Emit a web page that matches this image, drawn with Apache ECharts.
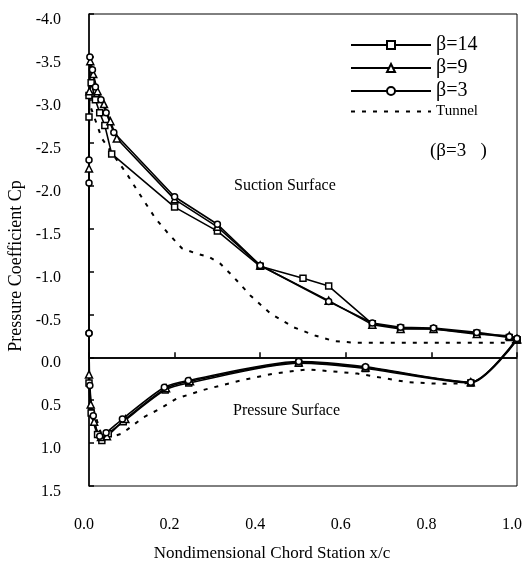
<!DOCTYPE html>
<html>
<head>
<meta charset="utf-8">
<script src="https://cdn.jsdelivr.net/npm/echarts@6/dist/echarts.min.js"></script>
<style>
  html, body { margin: 0; padding: 0; background: #fff; }
  #chart { width: 523px; height: 562px; }
</style>
</head>
<body>
<div id="chart"></div>
<script>
  // x/c and Cp
  var beta14Suction = [[0.0,-2.8],[0.0,-3.05],[0.005,-3.2],[0.015,-3.0],[0.025,-2.85],[0.037,-2.7],[0.053,-2.37],[0.2,-1.75],[0.3,-1.47],[0.4,-1.06],[0.5,-0.92],[0.56,-0.83],[0.662,-0.39],[0.728,-0.34],[0.805,-0.33],[0.906,-0.28],[0.982,-0.23],[1.0,-0.2]]
  var beta9Suction = [[0.0,-2.2],[0.001,-3.1],[0.003,-3.45],[0.01,-3.3],[0.02,-3.1],[0.035,-2.95],[0.05,-2.75],[0.065,-2.55],[0.2,-1.84],[0.3,-1.52],[0.4,-1.07],[0.56,-0.66],[0.662,-0.38],[0.728,-0.33],[0.805,-0.33],[0.906,-0.27],[0.982,-0.25],[1.0,-0.21]]
  var beta3Suction = [[0.0,-0.28],[0.0,-2.03],[0.0,-2.3],[0.002,-3.5],[0.008,-3.35],[0.015,-3.15],[0.028,-3.0],[0.04,-2.85],[0.058,-2.62],[0.2,-1.87],[0.3,-1.55],[0.4,-1.07],[0.56,-0.65],[0.662,-0.4],[0.728,-0.35],[0.805,-0.34],[0.906,-0.29],[0.982,-0.24],[1.0,-0.22]]

  var beta14Pressure = [[0.0,0.3],[0.005,0.65],[0.02,0.9],[0.03,0.97],[0.045,0.89],[0.08,0.75],[0.178,0.38],[0.233,0.3],[0.49,0.07],[0.646,0.13],[0.892,0.3],[1.0,-0.2]]
  var beta9Pressure = [[0.0,0.2],[0.004,0.55],[0.012,0.75],[0.028,0.93],[0.042,0.92],[0.085,0.72],[0.18,0.36],[0.236,0.28],[0.49,0.06],[0.646,0.12],[0.892,0.29],[1.0,-0.21]]
  var beta3Pressure = [[0.0,-0.28],[0.002,0.33],[0.01,0.68],[0.025,0.92],[0.04,0.88],[0.078,0.72],[0.176,0.35],[0.232,0.27],[0.49,0.05],[0.646,0.11],[0.892,0.29],[1.0,-0.22]]

  var tunnelSuction = [[0.005,-2.9],[0.03,-2.55],[0.065,-2.3],[0.088,-2.14],[0.112,-1.95],[0.138,-1.75],[0.155,-1.62],[0.182,-1.46],[0.217,-1.27],[0.25,-1.21],[0.28,-1.17],[0.307,-1.09],[0.337,-0.94],[0.377,-0.72],[0.424,-0.51],[0.478,-0.35],[0.53,-0.25],[0.572,-0.19],[0.62,-0.17],[0.8,-0.17],[1.0,-0.17]]
  var tunnelPressure = [[0.01,0.6],[0.03,0.92],[0.05,0.93],[0.077,0.89],[0.127,0.7],[0.166,0.6],[0.205,0.48],[0.268,0.38],[0.354,0.27],[0.432,0.19],[0.51,0.14],[0.627,0.19],[0.744,0.29],[0.822,0.31],[0.89,0.3]]

  var seriesNames = ['β=14', 'β=9', 'β=3', 'Tunnel']

  var font = 'Liberation Serif'
  var myChart = echarts.init(document.getElementById('chart'))

  function betaLine(name, data, symbol, size, smooth) {
    return {
      name: name,
      type: 'line',
      data: data,
      symbol: symbol,
      symbolSize: size,
      smooth: smooth,
      lineStyle: { color: '#000', width: 1.6 },
      itemStyle: { color: '#fff', borderColor: '#000', borderWidth: 1.5 },
      animation: false
    }
  }

  function tunnelLine(data) {
    return {
      name: 'Tunnel',
      type: 'line',
      data: data,
      symbol: 'none',
      lineStyle: { color: '#000', width: 2, type: [4, 7] },
      itemStyle: { color: '#000' },
      animation: false
    }
  }

  var zeroLine = tunnelLine(tunnelSuction)
  zeroLine.markLine = {
    silent: true,
    symbol: 'none',
    label: { show: false },
    lineStyle: { color: '#000', width: 1.5, type: 'solid' },
    data: [{ yAxis: 0 }],
    animation: false
  }

  var option = {
    backgroundColor: '#fff',
    grid: {
      left: 89,
      right: 6,
      top: 14,
      bottom: 76,
      show: true,
      borderColor: '#000',
      borderWidth: 1,
      outerBoundsMode: 'none'
    },
    legend: {
      orient: 'vertical',
      left: 345,
      top: 30,
      itemWidth: 80,
      itemHeight: 10,
      itemGap: 3,
      data: [
        { name: seriesNames[0] },
        { name: seriesNames[1] },
        { name: seriesNames[2] },
        { name: seriesNames[3], itemStyle: { opacity: 0 }, textStyle: { fontSize: 15 } }
      ],
      textStyle: { fontFamily: font, fontSize: 20, color: '#000' }
    },
    xAxis: {
      type: 'value',
      min: 0,
      max: 1,
      interval: 0.2,
      name: 'Nondimensional Chord Station x/c',
      nameLocation: 'middle',
      nameGap: 59,
      nameTextStyle: { fontFamily: font, fontSize: 17, color: '#000', padding: [0, 62, 0, 0] },
      axisLine: { lineStyle: { color: '#000', width: 1.5 } },
      axisTick: { inside: true, length: 5, lineStyle: { color: '#000', width: 1.5 } },
      axisLabel: {
        margin: 31,
        fontFamily: font,
        fontSize: 16,
        color: '#000',
        padding: [0, 10, 0, 0],
        formatter: function (v) { return v.toFixed(1) }
      },
      splitLine: { show: false }
    },
    yAxis: {
      type: 'value',
      inverse: true,
      min: -4,
      max: 1.5,
      interval: 0.5,
      name: 'Pressure Coefficient Cp',
      nameLocation: 'middle',
      nameGap: 61,
      nameRotate: 90,
      nameTextStyle: { fontFamily: font, fontSize: 18, color: '#000', padding: [0, 32, 0, 0] },
      axisLine: { lineStyle: { color: '#000', width: 1.5 } },
      axisTick: { inside: true, length: 5, lineStyle: { color: '#000', width: 1.5 } },
      axisLabel: {
        margin: 28,
        fontFamily: font,
        fontSize: 16,
        color: '#000',
        verticalAlign: 'top',
        padding: [-2, 0, 0, 0],
        formatter: function (v) {
          return v < 0 ? '-' + Math.abs(v).toFixed(1) : v.toFixed(1)
        }
      },
      splitLine: { show: false }
    },
    graphic: [
      { type: 'text', left: 430, top: 142, style: { text: '(β=3   )', font: '19px ' + font, fill: '#000' } },
      { type: 'text', left: 234, top: 178, style: { text: 'Suction Surface', font: '16px ' + font, fill: '#000' } },
      { type: 'text', left: 233, top: 403, style: { text: 'Pressure Surface', font: '16px ' + font, fill: '#000' } }
    ],
    series: [
      betaLine(seriesNames[0], beta14Suction, 'rect', 6, false),
      betaLine(seriesNames[1], beta9Suction, 'triangle', 7, false),
      betaLine(seriesNames[2], beta3Suction, 'circle', 6, false),
      zeroLine,
      betaLine(seriesNames[0], beta14Pressure, 'rect', 6, 0.25),
      betaLine(seriesNames[1], beta9Pressure, 'triangle', 7, 0.25),
      betaLine(seriesNames[2], beta3Pressure, 'circle', 6, 0.25),
      tunnelLine(tunnelPressure)
    ]
  }
  myChart.setOption(option)
</script>
</body>
</html>
